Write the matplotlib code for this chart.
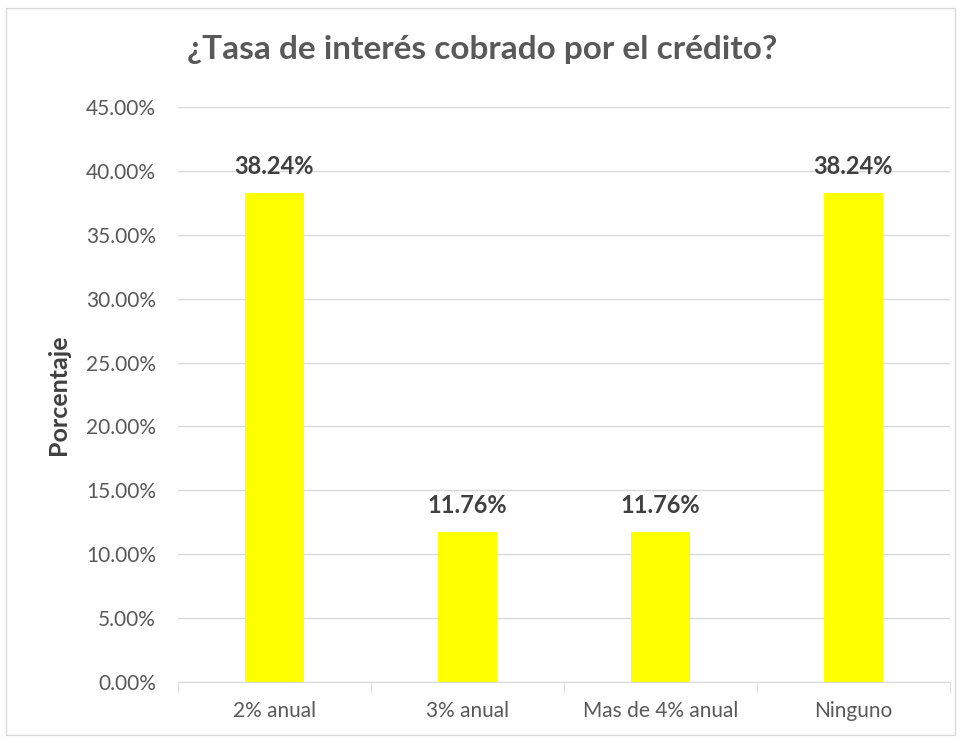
import matplotlib
matplotlib.use("Agg")
import matplotlib.pyplot as plt
from matplotlib.patches import Rectangle
from matplotlib.ticker import FuncFormatter, MultipleLocator

categories = ["2% anual", "3% anual", "Mas de 4% anual", "Ninguno"]
values = [38.24, 11.76, 11.76, 38.24]
title = "¿Tasa de interés cobrado por el crédito?"
ylabel = "Porcentaje"

plt.rcParams['font.family'] = ['Lato', 'DejaVu Sans']

fig = plt.figure(figsize=(9.64, 7.38), dpi=100)
fig.patches.append(Rectangle((6/964, 3/738), 949/964, 727/738, transform=fig.transFigure,
                             fill=False, edgecolor='#d9d9d9', linewidth=1))
ax = fig.add_axes([178/964, 1-682/738, 772/964, 575/738])

x = list(range(len(categories)))
ax.bar(x, values, width=0.31, color='#ffff00', zorder=3)
for xi, v in zip(x, values):
    ax.annotate(f"{v:.2f}%", (xi, v), xytext=(0, 19), textcoords='offset points',
                ha='center', va='center', fontsize=17, fontweight='bold', color='#404040', zorder=4)

ax.set_xlim(-0.5, len(categories) - 0.5)
ax.set_ylim(0, 45)
ax.yaxis.set_major_locator(MultipleLocator(5))
ax.yaxis.set_major_formatter(FuncFormatter(lambda v, p: f"{v:.2f}%"))
ax.grid(axis='y', color='#d9d9d9', linewidth=1, zorder=0)
for s in ['top', 'right', 'left']:
    ax.spines[s].set_visible(False)
ax.spines['bottom'].set_color('#d9d9d9')
ax.spines['bottom'].set_zorder(5)
ax.tick_params(axis='y', length=0, labelsize=15, labelcolor='#595959', pad=16)
ax.set_xticks(x)
ax.set_xticklabels(categories)
ax.tick_params(axis='x', length=0, labelsize=15, labelcolor='#595959', pad=14)
ax.set_xticks([i - 0.5 for i in range(len(categories) + 1)], minor=True)
ax.tick_params(axis='x', which='minor', length=8, color='#d9d9d9')
ax.set_ylabel(ylabel, fontsize=18, fontweight='bold', color='#404040')
ax.yaxis.set_label_coords((70 - 178) / 772, 0.5)
fig.text(482/964, 1-50/738, title, ha='center', va='center', fontsize=24,
         fontweight='bold', color='#595959')

fig.savefig("out.png", dpi=100, facecolor='white')
